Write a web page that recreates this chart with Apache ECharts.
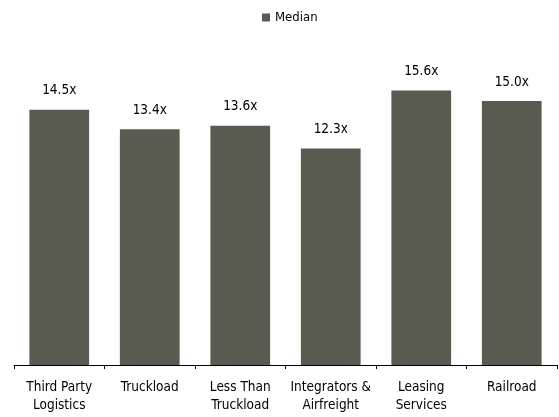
<!DOCTYPE html>
<html><head><meta charset="utf-8">
<script src="https://cdn.jsdelivr.net/npm/echarts@6/dist/echarts.min.js"></script>
<style>html,body{margin:0;padding:0;background:#fff}#c{width:559px;height:417px}</style>
</head><body><div id="c"></div>
<script>
const categories = ["Third Party\nLogistics","Truckload","Less Than\nTruckload","Integrators &\nAirfreight","Leasing\nServices","Railroad"];
const median = [14.5, 13.4, 13.6, 12.3, 15.6, 15.0];
const FONT = "'DejaVu Sans Condensed', 'Liberation Sans', sans-serif";
const chart = echarts.init(document.getElementById('c'));
chart.setOption({
  animation:false,
  textStyle:{fontFamily:FONT},
  legend:{top:6,left:257,itemWidth:8,itemHeight:8,itemGap:5,icon:'rect',
    textStyle:{fontFamily:FONT,fontSize:13,color:'#000'},data:['Median']},
  grid:{left:14,right:2,top:83.4,bottom:52},
  xAxis:{type:'category',data:categories,
    axisLine:{lineStyle:{color:'#000',width:1}},
    axisTick:{show:true,length:4,lineStyle:{color:'#000'}},
    axisLabel:{fontFamily:FONT,fontSize:13.5,color:'#000',margin:13,lineHeight:18,interval:0}},
  yAxis:{type:'value',min:0,max:16,show:false,splitLine:{show:false}},
  series:[{name:'Median',type:'bar',data:median,barWidth:'66%',
    itemStyle:{color:'#595a50'},
    label:{show:true,position:'top',distance:12,fontFamily:FONT,fontSize:13.5,color:'#000',
      formatter:p=>p.value.toFixed(1)+'x'}}]
});
</script></body></html>
